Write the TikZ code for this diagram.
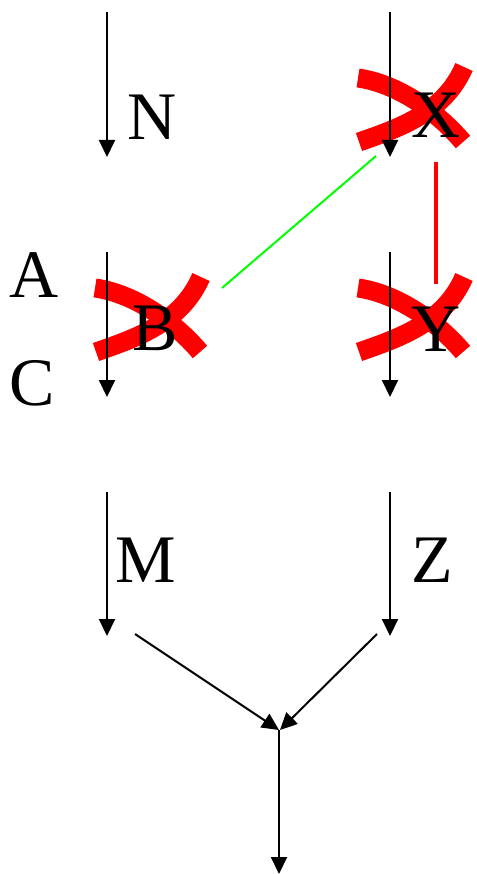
\documentclass[tikz,border=0pt]{standalone}
\usepackage{fontspec}
\setmainfont{Liberation Serif}
\usetikzlibrary{arrows.meta}
\begin{document}
\begin{tikzpicture}[x=1pt,y=-1pt,
  lbl/.style={inner sep=0pt,anchor=base west,font=\fontsize{68}{70}\selectfont},
  arr/.style={line width=2pt,-{Triangle[width=16pt,length=17pt]}},
  crossline/.style={red,line width=19pt},
  redcross/.pic={
    \draw[crossline] (-56,-30) .. controls (-20,-25) and (20,0) .. (49,34);
    \draw[crossline] (-55,34) .. controls (-15,20) and (30,5) .. (50,-41);
  }]
\useasboundingbox (0,0) rectangle (476,874);
% coordinates
\coordinate (l1s) at (107,12);  \coordinate (l1e) at (107,157);
\coordinate (r1s) at (390,12);  \coordinate (r1e) at (390,157);
\coordinate (l2s) at (107,252); \coordinate (l2e) at (107,397);
\coordinate (r2s) at (390,252); \coordinate (r2e) at (390,397);
\coordinate (l3s) at (107,492); \coordinate (l3e) at (107,636);
\coordinate (r3s) at (390,492); \coordinate (r3e) at (390,636);
\coordinate (dls) at (135,634); \coordinate (dle) at (279,730);
\coordinate (drs) at (377,634); \coordinate (dre) at (280,730);
\coordinate (bs) at (279,730);  \coordinate (be) at (279,874);
\coordinate (gs) at (222,288);  \coordinate (ge) at (376,156);
\coordinate (rs) at (436,162);  \coordinate (re) at (436,284);
% red crosses
\pic at (151,318) {redcross};
\pic at (414,108) {redcross};
\pic at (414,318) {redcross};
% arrows
\draw[arr] (l1s) -- (l1e);
\draw[arr] (r1s) -- (r1e);
\draw[arr] (l2s) -- (l2e);
\draw[arr] (r2s) -- (r2e);
\draw[arr] (l3s) -- (l3e);
\draw[arr] (r3s) -- (r3e);
\draw[arr] (dls) -- (dle);
\draw[arr] (drs) -- (dre);
\draw[arr] (bs) -- (be);
% labels
\node[lbl] (N) at (127,140) {N};
\node[lbl] (X) at (411,138) {X};
\node[lbl] (A) at (9,297) {A};
\node[lbl] (C) at (9,405) {C};
\node[lbl] (B) at (132,350) {B};
\node[lbl] (Y) at (411,351) {Y};
\node[lbl] (M) at (115,582) {M};
\node[lbl] (Z) at (411,582) {Z};
% connectors
\draw[green,line width=2pt] (gs) -- (ge);
\draw[red,line width=4pt] (rs) -- (re);
\end{tikzpicture}
\end{document}
